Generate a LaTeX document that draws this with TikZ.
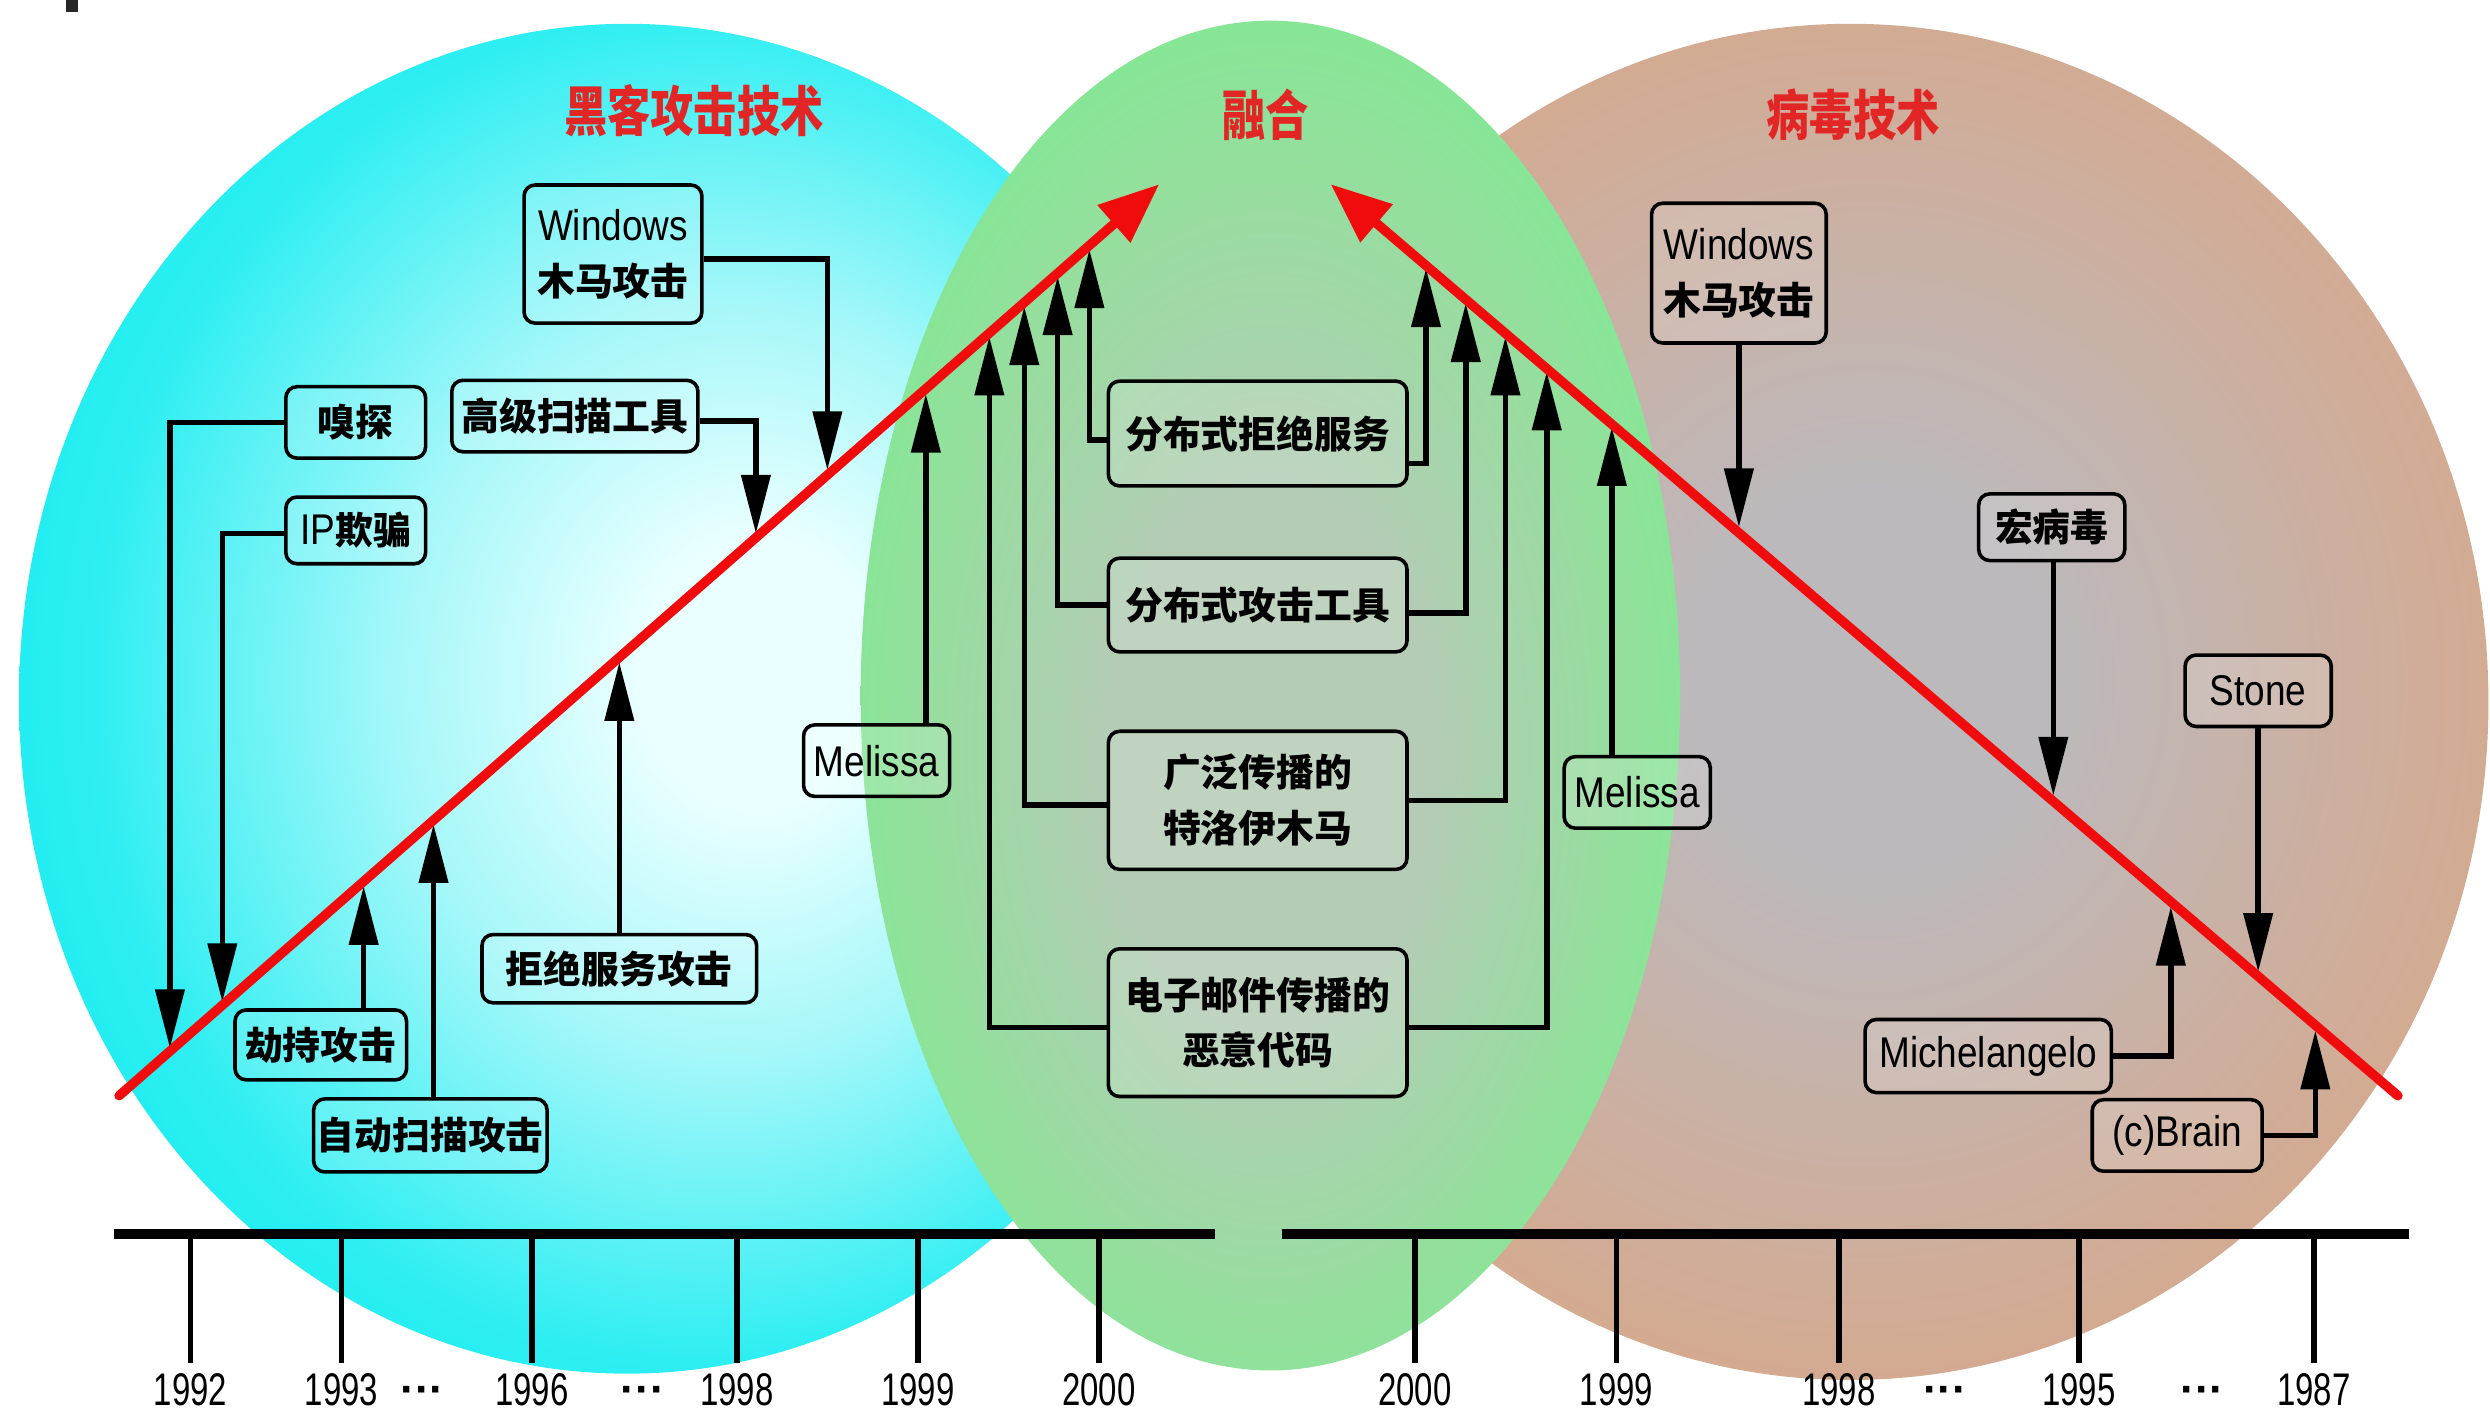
\documentclass[tikz,border=0pt]{standalone}
\usepackage{fontspec}
\usetikzlibrary{arrows.meta,calc}
\setmainfont{Liberation Sans}
\newfontfamily\latn[FakeStretch=0.86]{Liberation Sans}
\newfontfamily\cjk[Scale=0.88]{Noto Sans CJK SC}
\newfontfamily\ttlfont[FakeStretch=0.8]{Noto Sans CJK SC}
\newfontfamily\yrfont[FakeStretch=0.72]{Liberation Sans}
\newcommand\zhb[1]{{\cjk\bfseries #1}}
\definecolor{cyOut}{RGB}{16,236,240}
\definecolor{cyMid}{RGB}{165,247,249}
\definecolor{cyIn}{RGB}{234,255,255}
\definecolor{grOut}{RGB}{118,238,142}
\definecolor{grMid}{RGB}{150,222,158}
\definecolor{grIn}{RGB}{180,204,182}
\definecolor{brOut}{RGB}{218,166,132}
\definecolor{brMid}{RGB}{203,176,162}
\definecolor{brIn}{RGB}{188,185,188}
\definecolor{redline}{RGB}{240,12,12}
\definecolor{ttlred}{RGB}{226,38,38}
\pgfdeclareradialshading{cysh}{\pgfpoint{6bp}{1bp}}{color(0bp)=(cyIn); color(5bp)=(cyIn); color(14bp)=(cyMid); color(25bp)=(cyOut!80!cyMid); color(32bp)=(cyOut); color(50bp)=(cyOut)}
\pgfdeclareradialshading{grsh}{\pgfpoint{0bp}{-3bp}}{color(0bp)=(grIn); color(10bp)=(grIn); color(21bp)=(grMid); color(32bp)=(grOut); color(50bp)=(grOut)}
\pgfdeclareradialshading{brsh}{\pgfpoint{1bp}{1bp}}{color(0bp)=(brIn); color(7bp)=(brIn); color(18bp)=(brMid); color(31bp)=(brOut); color(50bp)=(brOut)}
\begin{document}
\begin{tikzpicture}[x=0.2mm,y=-0.2mm,
  arr/.style={line width=0.7mm,-{Triangle[length=7.4mm,width=3.6mm]}},
  redarr/.style={draw=redline,line width=1.2mm,line cap=round,-{Triangle[length=7.6mm,width=6mm]}},
  box/.style={draw,line width=0.45mm,rounded corners=1.4mm,inner sep=0pt,align=center,
    fill=white,fill opacity=0.15,text opacity=1,font=\latn\fontsize{15.4}{19.9}\selectfont},
  ttl/.style={text=ttlred,inner sep=0pt,font=\ttlfont\bfseries\fontsize{19.4}{22}\selectfont},
  year/.style={inner sep=0pt,font=\yrfont\fontsize{16.4}{18}\selectfont},
  dots/.style={inner sep=0pt,font=\bfseries\fontsize{15.9}{18}\selectfont},
  axis/.style={line width=1.2mm},
  tick/.style={line width=0.7mm}]
\useasboundingbox (0,0) rectangle (1568,892);
\fill[white] (0,0) rectangle (1568,892);
\fill[black!85] (41.5,0) rectangle (49,7.5);
% background ellipses
\path[shading=cysh] (395,440) ellipse [x radius=76.6mm, y radius=85mm];
\path[shading=brsh] (1165,442) ellipse [x radius=80.4mm, y radius=85.4mm];
\path[shading=grsh] (800,438) ellipse [x radius=51.6mm, y radius=85mm];
% titles
\node[ttl] (tHack) at (437,70) {黑客攻击技术};
\node[ttl] (tFuse) at (797,72) {融合};
\node[ttl] (tVirus) at (1167,72) {病毒技术};
% boxes left
\node[box,minimum width=22.4mm,minimum height=17.4mm] (win1) at (386,160) {Windows\\\zhb{木马攻击}};
\node[box,minimum width=17.6mm,minimum height=9mm] (sniff) at (224,266) {\zhb{嗅探}};
\node[box,minimum width=31mm,minimum height=9mm] (adv) at (362,262) {\zhb{高级扫描工具}};
\node[box,minimum width=17.6mm,minimum height=8.4mm] (ip) at (224,334) {IP\zhb{欺骗}};
\node[box,minimum width=21.6mm,minimum height=8.8mm] (jc) at (202,658) {\zhb{劫持攻击}};
\node[box,minimum width=29.4mm,minimum height=9.2mm] (auto) at (271,715) {\zhb{自动扫描攻击}};
\node[box,minimum width=34.6mm,minimum height=8.6mm] (dos) at (390,610) {\zhb{拒绝服务攻击}};
\node[box,minimum width=18.4mm,minimum height=9mm] (mel1) at (552,479) {Melissa};
% boxes middle
\node[box,minimum width=37.6mm,minimum height=13.2mm] (ddos) at (792,273) {\zhb{分布式拒绝服务}};
\node[box,minimum width=37.6mm,minimum height=11.8mm] (dtool) at (792,381) {\zhb{分布式攻击工具}};
\node[box,minimum width=37.6mm,minimum height=17.4mm] (troj) at (792,504) {\zhb{广泛传播的}\\\zhb{特洛伊木马}};
\node[box,minimum width=37.6mm,minimum height=18.6mm] (mail) at (792,644) {\zhb{电子邮件传播的}\\\zhb{恶意代码}};
% boxes right
\node[box,minimum width=18.4mm,minimum height=9mm] (mel2) at (1031,499) {Melissa};
\node[box,minimum width=22mm,minimum height=17.6mm] (win2) at (1095,172) {Windows\\\zhb{木马攻击}};
\node[box,minimum width=18.4mm,minimum height=8.4mm] (macro) at (1292,332) {\zhb{宏病毒}};
\node[box,minimum width=18.4mm,minimum height=9mm] (stone) at (1422,435) {Stone};
\node[box,minimum width=31mm,minimum height=9.2mm] (mich) at (1252,665) {Michelangelo};
\node[box,minimum width=21.4mm,minimum height=9mm] (brain) at (1371,715) {(c)Brain};
% points on red lines
\coordinate (tWin1) at (521,296);
\coordinate (tAdv) at (476,336);
\coordinate (tSniff) at (107,660);
\coordinate (tIP) at (140,631);
\coordinate (tJc) at (229,558);
\coordinate (tAuto) at (273,519);
\coordinate (tDos) at (390,417);
\coordinate (tMel1) at (583,248);
\coordinate (tMailL) at (623,212);
\coordinate (tTrojL) at (645,193);
\coordinate (tToolL) at (666,174);
\coordinate (tDdosL) at (686,157);
\coordinate (tDdosR) at (898,169);
\coordinate (tToolR) at (923,191);
\coordinate (tTrojR) at (948,212);
\coordinate (tMailR) at (974,234);
\coordinate (tMel2) at (1015,269);
\coordinate (tWin2) at (1095,332);
\coordinate (tMacro) at (1293,501);
\coordinate (tStone) at (1422,612);
\coordinate (tMich) at (1367,571);
\coordinate (tBrain) at (1458,649);
% connectors
\draw[arr] ($(win1.east)+(0,3)$) -| (tWin1);
\draw[arr] ($(adv.east)+(0,3)$) -| (tAdv);
\draw[arr] (sniff.west) -| (tSniff);
\draw[arr] ($(ip.west)+(0,2)$) -| (tIP);
\draw[arr] (jc.north -| tJc) -- (tJc);
\draw[arr] (auto.north -| tAuto) -- (tAuto);
\draw[arr] (dos.north) -- (tDos);
\draw[arr] (mel1.north -| tMel1) -- (tMel1);
\draw[arr] ($(ddos.west)+(0,4)$) -| (tDdosL);
\draw[arr] ($(ddos.east)+(0,19)$) -| (tDdosR);
\draw[arr] (dtool.west) -| (tToolL);
\draw[arr] ($(dtool.east)+(0,5)$) -| (tToolR);
\draw[arr] ($(troj.west)+(0,3)$) -| (tTrojL);
\draw[arr] (troj.east) -| (tTrojR);
\draw[arr] ($(mail.west)+(0,3)$) -| (tMailL);
\draw[arr] ($(mail.east)+(0,3)$) -| (tMailR);
\draw[arr] (mel2.north -| tMel2) -- (tMel2);
\draw[arr] (win2.south) -- (tWin2);
\draw[arr] (macro.south -| tMacro) -- (tMacro);
\draw[arr] (stone.south) -- (tStone);
\draw[arr] (mich.east) -| (tMich);
\draw[arr] (brain.east) -| (tBrain);
% red trend arrows
\coordinate (rL0) at (75,690);
\coordinate (rL1) at (730,116);
\coordinate (rR0) at (1510,690);
\coordinate (rR1) at (838,116);
\draw[redarr] (rL0) -- (rL1);
\draw[redarr] (rR0) -- (rR1);
% timeline
\coordinate (axL0) at (72,777);
\coordinate (axL1) at (765,777);
\coordinate (axR0) at (807,777);
\coordinate (axR1) at (1517,777);
\draw[axis] (axL0) -- (axL1);
\draw[axis] (axR0) -- (axR1);
\foreach \x/\yr/\nm in {120/1992/a,215/1993/b,335/1996/c,464/1998/d,578/1999/e,692/2000/f,
  891/2000/g,1018/1999/h,1158/1998/i,1309/1995/j,1457/1987/k}{
  \node[year] (yr\nm) at (\x,875) {\yr};
  \draw[tick] (yr\nm.north |- axL0) -- ($(yr\nm.north)+(0,-6)$);
}
\node[dots] (d1) at (266,879) {···};
\node[dots] (d2) at (405,879) {···};
\node[dots] (d3) at (1225,879) {···};
\node[dots] (d4) at (1387,879) {···};
\end{tikzpicture}
\end{document}
